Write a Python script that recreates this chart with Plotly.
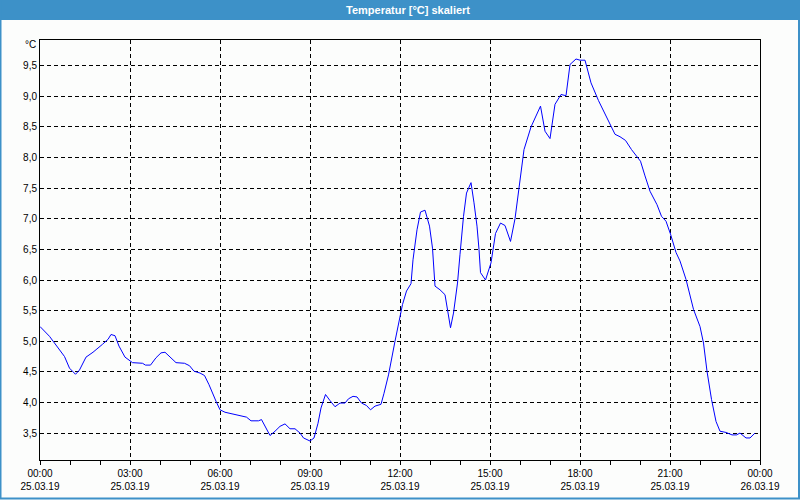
import plotly.graph_objects as go

times = ["00:00","00:19","00:49","00:59","01:11","01:19","01:32","01:46","02:05","02:16","02:22","02:30","02:38","02:50",
         "03:05","03:25","03:31","03:41","03:52","04:02","04:10","04:22","04:32","04:49","04:59","05:08","05:20","05:29",
         "05:38","05:52","06:00","06:10","06:26","06:40","06:53","07:02","07:17","07:23","07:30","07:40","07:50","08:00",
         "08:10","08:20","08:30","08:40","08:47","09:00","09:08","09:16","09:22","09:31","09:40","09:50","10:00","10:10",
         "10:17","10:26","10:34","10:43","10:53","11:01","11:10","11:22","11:28","11:37","11:50","12:00","12:05","12:13",
         "12:22","12:26","12:34","12:41","12:50","12:59","13:05","13:10","13:20","13:30","13:35","13:41","13:47","13:55",
         "14:00","14:07","14:13","14:22","14:28","14:34","14:38","14:41","14:51","15:02","15:11","15:21","15:30","15:41",
         "15:50","16:00","16:08","16:22","16:32","16:41","16:50","17:00","17:10","17:22","17:32","17:40","17:52","18:00",
         "18:10","18:22","18:37","19:00","19:10","19:20","19:31","19:43","19:55","20:01","20:10","20:20","20:34","20:43",
         "20:52","21:01","21:12","21:20","21:32","21:47","22:00","22:07","22:14","22:23","22:32","22:40","22:52","23:04",
         "23:13","23:20","23:32","23:40","23:50"]
temps = [5.24,5.08,4.75,4.56,4.46,4.53,4.74,4.82,4.95,5.03,5.11,5.09,4.92,4.74,
         4.65,4.64,4.61,4.61,4.73,4.81,4.82,4.73,4.65,4.64,4.60,4.51,4.48,4.44,
         4.29,4.02,3.88,3.84,3.81,3.78,3.76,3.70,3.70,3.72,3.61,3.46,3.53,3.61,
         3.65,3.57,3.57,3.50,3.42,3.37,3.42,3.66,3.91,4.13,4.03,3.93,3.99,3.99,
         4.06,4.10,4.09,3.99,3.95,3.88,3.94,3.97,4.15,4.45,5.00,5.41,5.60,5.82,
         5.94,6.33,6.82,7.11,7.14,6.88,6.52,5.90,5.84,5.76,5.52,5.22,5.46,5.95,
         6.42,7.04,7.42,7.59,7.26,6.88,6.50,6.12,6.00,6.28,6.76,6.93,6.89,6.63,
         7.00,7.60,8.13,8.50,8.68,8.84,8.43,8.31,8.87,9.03,9.01,9.52,9.61,9.59,
         9.59,9.22,8.93,8.55,8.38,8.34,8.28,8.13,8.01,7.94,7.70,7.45,7.23,7.04,
         6.96,6.75,6.45,6.31,6.01,5.52,5.24,4.97,4.51,4.05,3.69,3.53,3.51,3.47,
         3.47,3.50,3.42,3.42,3.50]

tick_times = ["2019-03-25 00:00","2019-03-25 03:00","2019-03-25 06:00","2019-03-25 09:00","2019-03-25 12:00",
              "2019-03-25 15:00","2019-03-25 18:00","2019-03-25 21:00","2019-03-26 00:00"]
tick_labels = ["00:00<br>25.03.19","03:00<br>25.03.19","06:00<br>25.03.19","09:00<br>25.03.19","12:00<br>25.03.19",
               "15:00<br>25.03.19","18:00<br>25.03.19","21:00<br>25.03.19","00:00<br>26.03.19"]
y_ticks = [3.5,4.0,4.5,5.0,5.5,6.0,6.5,7.0,7.5,8.0,8.5,9.0,9.5]
y_labels = ["3,5","4,0","4,5","5,0","5,5","6,0","6,5","7,0","7,5","8,0","8,5","9,0","9,5"]

x = ["2019-03-25 " + t for t in times]

fig = go.Figure()
fig.add_trace(go.Scatter(x=x, y=temps, mode="lines", line=dict(color="#0000ff", width=1), showlegend=False))

W, H = 800, 500
ml, mr, mt, mb = 40, 40, 40, 40
pw, ph = W - ml - mr, H - mt - mb

def px_x(p):
    return (p - ml) / pw

def px_y(p):
    return (H - mb - p) / ph

font = "Liberation Sans, Arial, sans-serif"

fig.update_layout(
    width=W, height=H,
    margin=dict(l=ml, r=mr, t=mt, b=mb, autoexpand=False),
    paper_bgcolor="#fcfdfc",
    plot_bgcolor="#fcfdfc",
    font=dict(family=font, size=10, color="#000000"),
    xaxis=dict(
        range=["2019-03-25 00:00", "2019-03-26 00:00"],
        tickvals=tick_times, ticktext=tick_labels,
        showgrid=True, gridcolor="#000000", gridwidth=1, griddash="4px,3px",
        showline=True, linecolor="#000000", linewidth=1, mirror=True,
        ticks="outside", ticklen=4, tickcolor="#000000",
        minor=dict(dtick=3600000, ticks="outside", ticklen=4, tickcolor="#000000", showgrid=False),
        zeroline=False, tickangle=0, automargin=False,
        tickfont=dict(family=font, size=10, color="#000000"),
    ),
    yaxis=dict(
        range=[3.06, 9.92],
        tickvals=y_ticks, ticktext=y_labels,
        showgrid=True, gridcolor="#000000", gridwidth=1, griddash="4px,3px",
        showline=True, linecolor="#000000", linewidth=1, mirror=True,
        ticks="", zeroline=False, automargin=False,
        tickfont=dict(family=font, size=10, color="#000000"),
    ),
    shapes=[
        dict(type="rect", xref="paper", yref="paper",
             x0=px_x(0), x1=px_x(W), y0=px_y(20), y1=px_y(0),
             fillcolor="#3d91c8", line=dict(width=0), layer="below"),
        dict(type="rect", xref="paper", yref="paper",
             x0=px_x(0.5), x1=px_x(W - 1), y0=px_y(H - 1.5), y1=px_y(0),
             fillcolor="rgba(0,0,0,0)", line=dict(color="#3d91c8", width=2), layer="above"),
    ],
    annotations=[
        dict(text="<b>Temperatur [°C] skaliert</b>", xref="paper", yref="paper",
             x=px_x(W / 2 + 8), y=px_y(10), xanchor="center", yanchor="middle",
             showarrow=False, font=dict(family=font, size=11, color="#ffffff")),
        dict(text="°C", xref="paper", yref="paper",
             x=px_x(38), y=px_y(45), xanchor="right", yanchor="middle",
             showarrow=False, font=dict(family=font, size=10, color="#000000")),
    ],
)

fig.write_html("out.html", config={"displayModeBar": False},
               post_script="document.body.style.margin='0';document.body.style.padding='0';")
